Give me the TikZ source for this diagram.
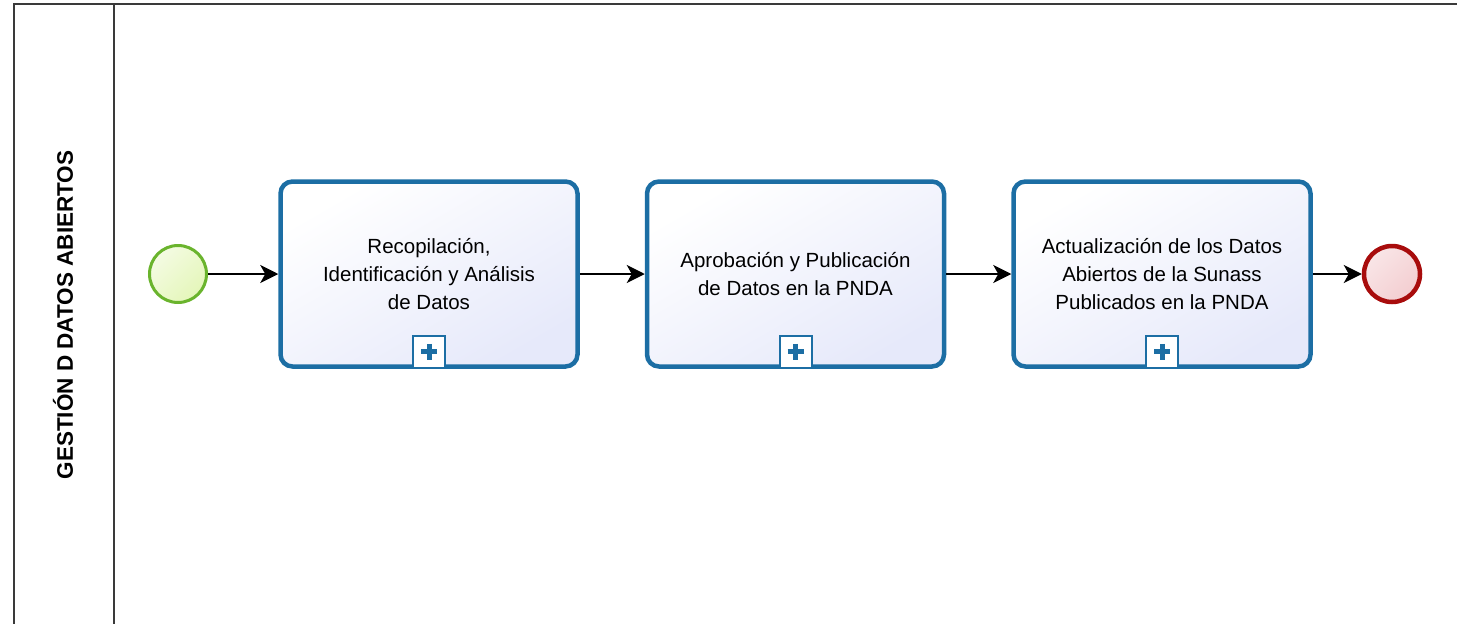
\documentclass[tikz,border=0pt]{standalone}
\usepackage{fontspec}
\setmainfont{Liberation Sans}
\usepackage{tikz}
\usetikzlibrary{arrows.meta}

\definecolor{tareaborde}{HTML}{1C6EA4}
\definecolor{tarealila}{HTML}{E6E9FA}
\definecolor{inicioverde}{HTML}{6AB42D}
\definecolor{iniciofondo}{HTML}{E4F6B9}
\definecolor{finrojo}{HTML}{A80C0C}
\definecolor{finfondo}{HTML}{F3CDD0}
\definecolor{pool}{HTML}{3A3A3A}

\begin{document}
\begin{tikzpicture}[x=1pt,y=-1pt,
  tarea/.style={draw=tareaborde,line width=4.5pt,rounded corners=12pt,
    top color=white,bottom color=tarealila,shading angle=30,
    minimum width=297pt,minimum height=185pt,align=center,
    font=\fontsize{20.5}{28}\selectfont},
  marca/.style={draw=tareaborde,line width=2pt,fill=white,minimum size=32pt,
    inner sep=0pt,anchor=south},
  cruz/.style={draw=tareaborde,line width=5pt},
  inicio/.style={circle,draw=inicioverde,line width=3pt,minimum size=57pt,
    top color=white!60!iniciofondo,bottom color=iniciofondo,shading angle=45},
  fin/.style={circle,draw=finrojo,line width=4.5pt,minimum size=56pt,
    top color=white!50!finfondo,bottom color=finfondo,shading angle=45},
  flujo/.style={line width=1.6pt,-{Stealth[length=18pt,width=18pt,inset=5pt]}}]
\useasboundingbox (0,0) rectangle (1457,624);
% pool y lane
\draw[pool,line width=2pt] (14,624) -- (14,4) -- (1457,4) ;
\draw[pool,line width=2pt] (114,4) -- (114,624) ;
\node (carril) [rotate=90,font=\bfseries\fontsize{22.5}{24}\selectfont] at (63,315) {GESTIÓN D DATOS ABIERTOS} ;
% eventos y tareas
\node (ini) [inicio] at (178,274) {} ;
\node (t1) [tarea] at (429,274) {Recopilación,\\Identificación y Análisis\\de Datos} ;
\node (t2) [tarea] at (795.5,274) {Aprobación y Publicación\\de Datos en la PNDA} ;
\node (t3) [tarea] at (1162,274) {Actualización de los Datos\\Abiertos de la Sunass\\Publicados en la PNDA} ;
\node (fin) [fin] at (1392,274) {} ;
% marcas de subproceso
\node (m1) [marca] at (t1.south) {} ;
\node (m2) [marca] at (t2.south) {} ;
\node (m3) [marca] at (t3.south) {} ;
\draw[cruz] (m1.center) +(-8,0) -- +(8,0) (m1.center) +(0,-8) -- +(0,8) ;
\draw[cruz] (m2.center) +(-8,0) -- +(8,0) (m2.center) +(0,-8) -- +(0,8) ;
\draw[cruz] (m3.center) +(-8,0) -- +(8,0) (m3.center) +(0,-8) -- +(0,8) ;
% flujos
\draw[flujo] (ini) to (t1) ;
\draw[flujo] (t1) to (t2) ;
\draw[flujo] (t2) to (t3) ;
\draw[flujo] (t3) to (fin) ;
\end{tikzpicture}
\end{document}
